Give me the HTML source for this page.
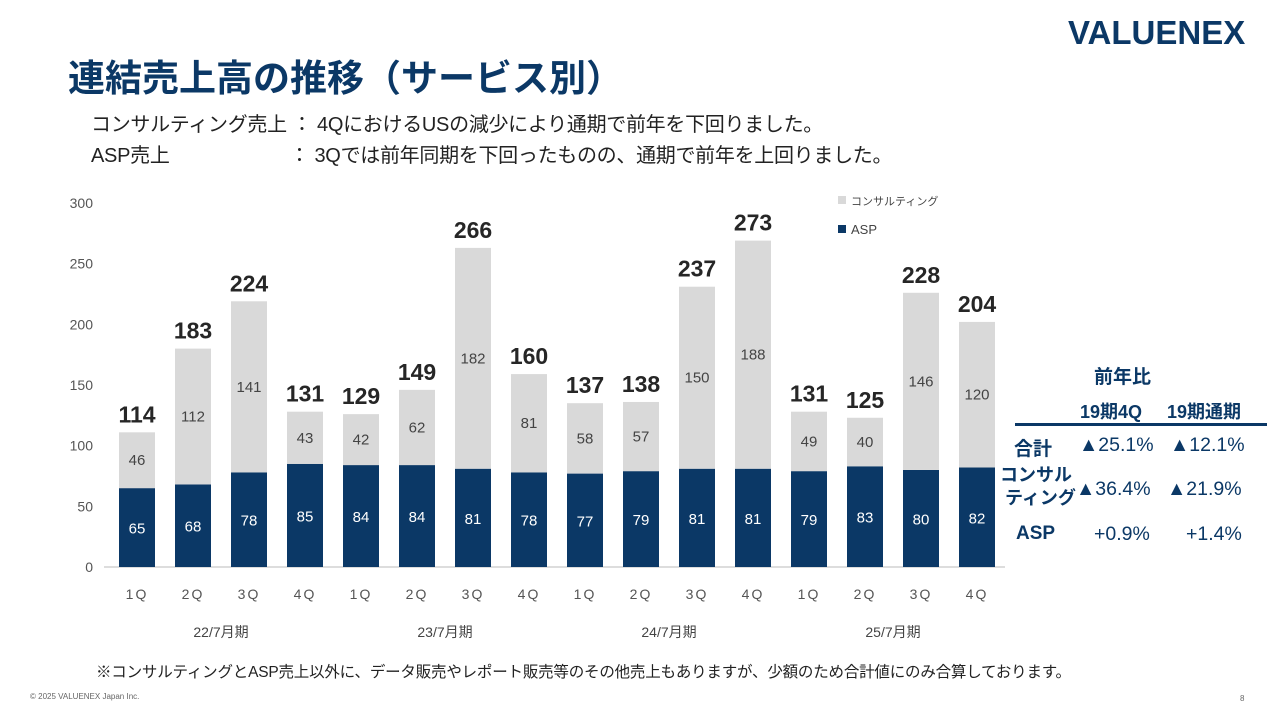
<!DOCTYPE html>
<html><head><meta charset="utf-8">
<style>
body{margin:0;width:1280px;height:720px;background:#fff;position:relative;overflow:hidden;font-family:"Liberation Sans","Noto Sans CJK JP",sans-serif;}
.abs{position:absolute;white-space:nowrap;}
</style></head><body>
<div class="abs" style="left:1068px;top:14px;font-size:33px;font-weight:bold;color:#0b3866;letter-spacing:0px;">VALUENEX</div>
<div class="abs" style="left:68px;top:48px;font-size:37px;font-weight:bold;color:#0b3866;">連結売上高の推移（サービス別）</div>
<div class="abs" style="left:91px;top:108px;font-size:20px;color:#222;letter-spacing:-0.3px;">コンサルティング売上 ： 4QにおけるUSの減少により通期で前年を下回りました。</div>
<div class="abs" style="left:91px;top:139px;font-size:20px;color:#222;letter-spacing:-0.3px;">ASP売上<span style="display:inline-block;width:120px"></span>： 3Qでは前年同期を下回ったものの、通期で前年を上回りました。</div>
<div class="abs" style="left:96px;top:660px;font-size:15.5px;color:#222;letter-spacing:-0.2px;">※コンサルティングとASP売上以外に、データ販売やレポート販売等のその他売上もありますが、少額のため合計値にのみ合算しております。</div>
<div class="abs" style="left:30px;top:692px;font-size:8px;color:#666;">© 2025 VALUENEX Japan Inc.</div>
<div class="abs" style="left:1240px;top:694px;font-size:8px;color:#666;">8</div>
<svg id="chart" width="1280" height="720" style="position:absolute;left:0;top:0"></svg>
<div class="abs" style="left:0;top:0;width:1280px;height:720px;color:#0b3866;font-weight:bold;">
<div class="abs" style="left:1094px;top:362px;font-size:19px;">前年比</div>
<div class="abs" style="left:1080px;top:398px;font-size:18px;">19期4Q</div>
<div class="abs" style="left:1167px;top:398px;font-size:18px;">19期通期</div>
<div class="abs" style="left:1015px;top:423px;width:252px;height:3px;background:#0b3866;"></div>
<div class="abs" style="left:1014px;top:434px;font-size:19px;">合計</div>
<div class="abs" style="left:1079px;top:434px;font-size:19.5px;font-weight:normal;">▲25.1%</div>
<div class="abs" style="left:1170px;top:434px;font-size:19.5px;font-weight:normal;">▲12.1%</div>
<div class="abs" style="left:1000px;top:464px;font-size:18px;line-height:23px;">コンサル<br>&nbsp;ティング</div>
<div class="abs" style="left:1076px;top:478px;font-size:19.5px;font-weight:normal;">▲36.4%</div>
<div class="abs" style="left:1167px;top:478px;font-size:19.5px;font-weight:normal;">▲21.9%</div>
<div class="abs" style="left:1016px;top:523px;font-size:19px;">ASP</div>
<div class="abs" style="left:1094px;top:523px;font-size:19.5px;font-weight:normal;">+0.9%</div>
<div class="abs" style="left:1186px;top:523px;font-size:19.5px;font-weight:normal;">+1.4%</div>
</div>
<script>
const quarters=["1Q","2Q","3Q","4Q","1Q","2Q","3Q","4Q","1Q","2Q","3Q","4Q","1Q","2Q","3Q","4Q"];
const periods=["22/7月期","23/7月期","24/7月期","25/7月期"];
const asp=[65,68,78,85,84,84,81,78,77,79,81,81,79,83,80,82];
const consulting=[46,112,141,43,42,62,182,81,58,57,150,188,49,40,146,120];
const totals=[114,183,224,131,129,149,266,160,137,138,237,273,131,125,228,204];
const yTicks=[0,50,100,150,200,250,300];
const NS="http://www.w3.org/2000/svg";
const svg=document.getElementById('chart');
const y0=567,pxPer=364/300,x0=137,step=56,bw=36;
const y=v=>y0-v*pxPer;
const x=i=>x0+i*step;
function mk(tag,attrs,txt){const e=document.createElementNS(NS,tag);for(const k in attrs)e.setAttribute(k,attrs[k]);if(txt!==undefined)e.textContent=txt;svg.appendChild(e);return e;}
const ax=mk('line',{x1:104,x2:1005,y1:y0,y2:y0,stroke:'#bbb','stroke-width':1});


yTicks.forEach(t=>{const e=mk('text',{x:93,y:y(t)+5,'text-anchor':'end','font-size':14,fill:'#555'},t);

});
asp.forEach((a,i)=>{
const c=consulting[i],cx=x(i);
const b1=mk('rect',{x:cx-bw/2,y:y(a),width:bw,height:a*pxPer,fill:'#0b3866'});


const b2=mk('rect',{x:cx-bw/2,y:y(a+c),width:bw,height:c*pxPer,fill:'#d9d9d9'});


const l1=mk('text',{x:cx,y:y(a/2)+6,'text-anchor':'middle','font-size':15,fill:'#fff'},a);


const l2=mk('text',{x:cx,y:y(a+c/2)+5,'text-anchor':'middle','font-size':15,fill:'#444'},c);


const l3=mk('text',{x:cx,y:y(a+c)-10,'text-anchor':'middle','font-size':23,'font-weight':'bold',fill:'#262626'},totals[i]);


const q=mk('text',{x:cx,y:599,'text-anchor':'middle','font-size':14,fill:'#555','letter-spacing':'2'},quarters[i]);


});
periods.forEach((p,k)=>{const e=mk('text',{x:(x(k*4)+x(k*4+3))/2,y:637,'text-anchor':'middle','font-size':14,fill:'#444'},p);

});
const lg1=mk('rect',{x:838,y:196,width:8,height:8,fill:'#d9d9d9'});


const lt1=mk('text',{x:851,y:205,'font-size':11,fill:'#444'},'コンサルティング');


const lg2=mk('rect',{x:838,y:225,width:8,height:8,fill:'#0b3866'});


const lt2=mk('text',{x:851,y:234,'font-size':13,fill:'#444'},'ASP');


</script>
</body></html>
